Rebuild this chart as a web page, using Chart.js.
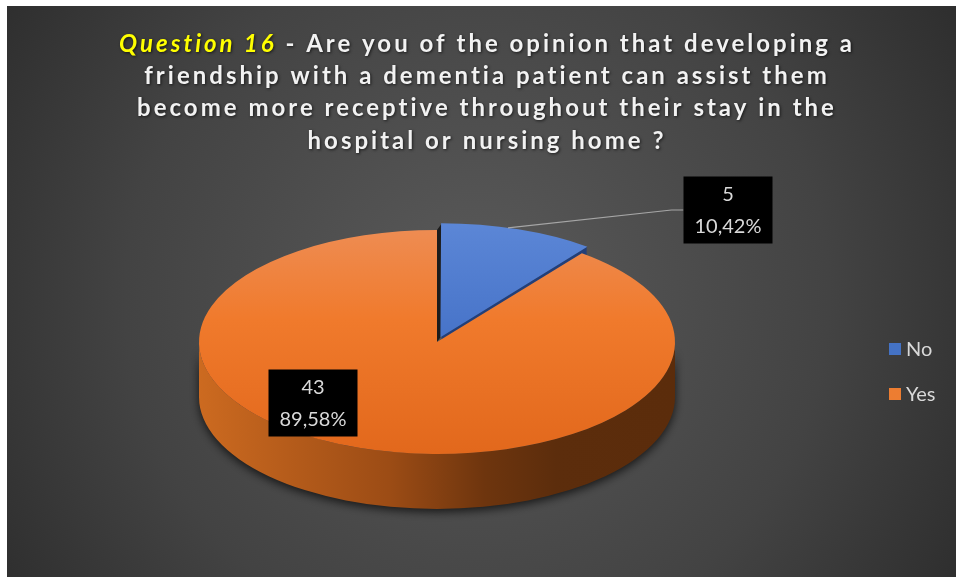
<!DOCTYPE html>
<html>
<head>
<meta charset="utf-8">
<title>Question 16</title>
<script src="https://cdn.jsdelivr.net/npm/chart.js@4.4.0/dist/chart.umd.min.js"></script>
<style>
    html, body { margin: 0; padding: 0; background: #ffffff; }
    #wrap { position: absolute; left: 7px; top: 6px; width: 949px; height: 571px; }
</style>
</head>
<body>
<div id="wrap"><canvas id="q16Chart" width="949" height="571"></canvas></div>
<script>
(function() {
    'use strict';

    // survey answers
    var answerLabels = ['No', 'Yes'];
    var answerCounts = [5, 43];

    // title, split the way it is laid out on the slide
    var titleLead = 'Question 16';
    var titleLines = [
        ' - Are you of the opinion that developing a',
        'friendship with a dementia patient can assist them',
        'become more receptive throughout their stay in the',
        'hospital or nursing home ?'
    ];

    // colours per slice: top face gradient, wall gradient, legend swatch
    var topStops = [
        [[0, '#5b86d6'], [1, '#3361bb']],
        [[0, '#ee8c52'], [0.4, '#f07a2c'], [1, '#e2681c']]
    ];
    var wallStops = [
        [[0, '#3a64b8'], [1, '#1e3a70']],
        [[0, '#cc6a20'], [0.4, '#9c4c15'], [0.6, '#6e350e'], [0.75, '#5c2d0c'], [1, '#5b2c0b']]
    ];
    var swatchColors = ['#4472c4', '#ed7d31'];

    // tilted pie: horizontal radius, vertical radius, thickness
    var pieShape = { rx: 238, ry: 112, depth: 55 };

    // label boxes, centre relative to the pie centre
    var labelBoxes = [
        { dx: 291, dy: -132, leader: true },
        { dx: -124, dy: 61, leader: false }
    ];

    var total = answerCounts.reduce(function(a, b) { return a + b; }, 0);

    function percentText(v) {
        return (v / total * 100).toFixed(2).replace('.', ',') + '%';
    }

    function verticalGradient(ctx, top, bottom, stops) {
        var g = ctx.createLinearGradient(0, top, 0, bottom);
        stops.forEach(function(s) { g.addColorStop(s[0], s[1]); });
        return g;
    }

    function horizontalGradient(ctx, left, right, stops) {
        var g = ctx.createLinearGradient(left, 0, right, 0);
        stops.forEach(function(s) { g.addColorStop(s[0], s[1]); });
        return g;
    }

    // same shift the arc element applies for its offset option
    function arcShift(arc) {
        var offset = (arc.options.offset || 0) / 4;
        var circ = arc.endAngle - arc.startAngle;
        var fix = 1 - Math.sin(Math.min(Math.PI, circ));
        var d = offset + offset * fix;
        var half = (arc.startAngle + arc.endAngle) / 2;
        var sx = pieShape.rx / arc.outerRadius;
        return { x: Math.cos(half) * d * sx, y: Math.sin(half) * d };
    }

    function rimPoint(arc, angle, shift) {
        return {
            x: arc.x + shift.x + pieShape.rx * Math.cos(angle),
            y: arc.y + shift.y + pieShape.ry * Math.sin(angle)
        };
    }

    var backgroundPlugin = {
        id: 'slideBackground',
        beforeDraw: function(chart) {
            var ctx = chart.ctx;
            var g = ctx.createRadialGradient(470, 290, 0, 470, 290, 640);
            g.addColorStop(0, '#5a5a5a');
            g.addColorStop(0.55, '#434343');
            g.addColorStop(1, '#262626');
            ctx.save();
            ctx.fillStyle = g;
            ctx.fillRect(0, 0, chart.width, chart.height);
            ctx.restore();
        }
    };

    var titlePlugin = {
        id: 'slideTitle',
        afterDraw: function(chart) {
            var ctx = chart.ctx;
            var cx = 480;
            var lineY = [38, 70, 102, 135];
            var bodyFont = 'bold 24px Lato';
            var leadFont = 'italic bold 24px Lato';
            ctx.save();
            ctx.font = bodyFont;
            ctx.letterSpacing = '3px';
            ctx.textBaseline = 'middle';
            ctx.textAlign = 'left';
            ctx.shadowColor = 'rgba(0, 0, 0, 0.65)';
            ctx.shadowBlur = 3;
            ctx.shadowOffsetX = 1;
            ctx.shadowOffsetY = 1;

            titleLines.forEach(function(line, i) {
                var leadW = 0;
                if (i === 0) {
                    ctx.font = leadFont;
                    leadW = ctx.measureText(titleLead).width;
                    ctx.font = bodyFont;
                }
                var w = leadW + ctx.measureText(line).width;
                var x = cx - w / 2;
                if (i === 0) {
                    ctx.font = leadFont;
                    ctx.fillStyle = '#ffff00';
                    ctx.fillText(titleLead, x, lineY[i]);
                    ctx.font = bodyFont;
                    x += leadW;
                }
                ctx.fillStyle = '#f2f2f2';
                ctx.fillText(line, x, lineY[i]);
            });
            ctx.restore();
        }
    };

    var pie3dPlugin = {
        id: 'pie3d',
        beforeDatasetsDraw: function(chart) {
            var ctx = chart.ctx;
            var arcs = chart.getDatasetMeta(0).data;
            var first = arcs[0];
            var cx = first.x, cy = first.y;
            var d = pieShape.depth;

            ctx.save();

            // outer walls, only the front half can be seen
            arcs.forEach(function(arc, i) {
                var a0 = Math.max(arc.startAngle, 0);
                var a1 = Math.min(arc.endAngle, Math.PI);
                if (a1 <= a0) {
                    return;
                }
                var s = arcShift(arc);
                ctx.save();
                ctx.shadowColor = 'rgba(0, 0, 0, 0.7)';
                ctx.shadowBlur = 10;
                ctx.shadowOffsetY = 3;
                ctx.beginPath();
                ctx.ellipse(cx + s.x, cy + s.y, pieShape.rx, pieShape.ry, 0, a0, a1);
                ctx.ellipse(cx + s.x, cy + s.y + d, pieShape.rx, pieShape.ry, 0, a1, a0, true);
                ctx.closePath();
                ctx.fillStyle = horizontalGradient(ctx, cx - pieShape.rx, cx + pieShape.rx, wallStops[i]);
                ctx.fill();
                ctx.restore();
            });

            // cut faces of a pulled-out slice
            arcs.forEach(function(arc) {
                if (!arc.options.offset) {
                    return;
                }
                var s = arcShift(arc);
                var ps = rimPoint(arc, arc.startAngle, { x: 0, y: 0 });
                var pe = rimPoint(arc, arc.endAngle, s);

                ctx.beginPath();
                ctx.moveTo(cx, cy);
                ctx.lineTo(ps.x, ps.y);
                ctx.lineTo(ps.x + s.x, ps.y + s.y);
                ctx.lineTo(cx + s.x, cy + s.y);
                ctx.closePath();
                ctx.fillStyle = '#1c1c1c';
                ctx.fill();

                ctx.beginPath();
                ctx.moveTo(cx + s.x, cy + s.y);
                ctx.lineTo(pe.x, pe.y);
                ctx.lineTo(pe.x, pe.y + d);
                ctx.lineTo(cx + s.x, cy + s.y + d);
                ctx.closePath();
                ctx.fillStyle = '#233f78';
                ctx.fill();
            });

            // squash the flat pie into the tilted ellipse
            var sx = pieShape.rx / first.outerRadius;
            ctx.translate(cx, cy);
            ctx.scale(sx, 1);
            ctx.translate(-cx, -cy);
        },
        afterDatasetsDraw: function(chart) {
            var ctx = chart.ctx;
            ctx.restore();

            var arcs = chart.getDatasetMeta(0).data;
            var cx = arcs[0].x, cy = arcs[0].y;
            var boxW = 89, boxH = 67;

            ctx.save();
            arcs.forEach(function(arc, i) {
                var place = labelBoxes[i];
                var bx = cx + place.dx, by = cy + place.dy;

                if (place.leader) {
                    var s = arcShift(arc);
                    var mid = (arc.startAngle + arc.endAngle) / 2 - 0.045;
                    var p = rimPoint(arc, mid, s);
                    ctx.beginPath();
                    ctx.moveTo(p.x, p.y);
                    ctx.lineTo(bx - boxW / 2 - 12, by);
                    ctx.lineTo(bx - boxW / 2, by);
                    ctx.strokeStyle = '#a6a6a6';
                    ctx.lineWidth = 1.2;
                    ctx.stroke();
                }

                ctx.fillStyle = '#000000';
                ctx.fillRect(bx - boxW / 2, by - boxH / 2, boxW, boxH);

                ctx.fillStyle = '#d9d9d9';
                ctx.font = '20px Lato';
                ctx.textAlign = 'center';
                ctx.textBaseline = 'middle';
                ctx.fillText(String(answerCounts[i]), bx, by - 15);
                ctx.fillText(percentText(answerCounts[i]), bx, by + 17);
            });
            ctx.restore();
        }
    };

    var legendPlugin = {
        id: 'sideLegend',
        afterDraw: function(chart) {
            var ctx = chart.ctx;
            var x = 882, y = 343, step = 45;
            ctx.save();
            ctx.font = '20px Lato';
            ctx.textAlign = 'left';
            ctx.textBaseline = 'middle';
            answerLabels.forEach(function(label, i) {
                ctx.fillStyle = swatchColors[i];
                ctx.fillRect(x, y + i * step - 6, 12, 12);
                ctx.fillStyle = '#d9d9d9';
                ctx.fillText(label, x + 17, y + i * step + 1);
            });
            ctx.restore();
        }
    };

    new Chart(document.getElementById('q16Chart'), {
        type: 'pie',
        data: {
            labels: answerLabels,
            datasets: [{
                data: answerCounts,
                radius: pieShape.ry,
                offset: [20, 0],
                borderWidth: 0,
                clip: false,
                backgroundColor: function(context) {
                    var area = context.chart.chartArea;
                    if (!area) {
                        return swatchColors[context.dataIndex];
                    }
                    return verticalGradient(context.chart.ctx, area.top, area.bottom, topStops[context.dataIndex]);
                }
            }]
        },
        options: {
            responsive: false,
            animation: false,
            events: [],
            layout: {
                padding: { left: 192, right: 281, top: 224, bottom: 123 }
            },
            plugins: {
                legend: { display: false },
                tooltip: { enabled: false }
            }
        },
        plugins: [backgroundPlugin, pie3dPlugin, titlePlugin, legendPlugin]
    });
})();
</script>
</body>
</html>
